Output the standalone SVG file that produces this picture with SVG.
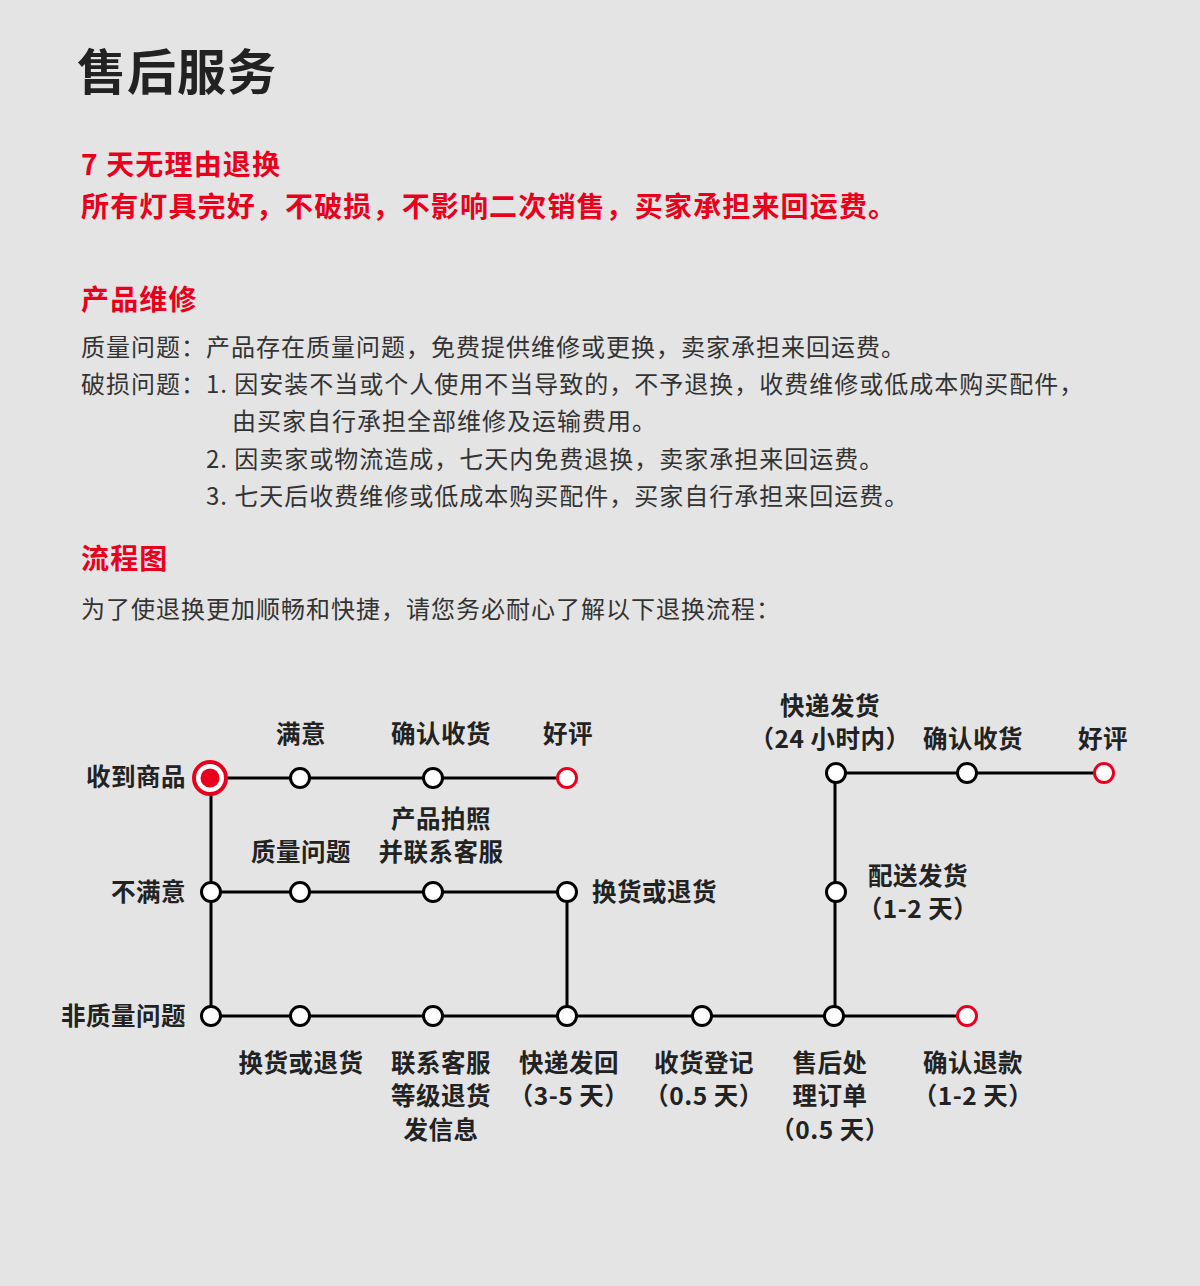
<svg xmlns="http://www.w3.org/2000/svg" width="1200" height="1286" viewBox="0 0 1200 1286">
<style>
.bg{fill:#e4e4e4}
.title{font-family:"Noto Sans CJK SC","Noto Sans",sans-serif;font-weight:700;font-size:49px;fill:#222;letter-spacing:1px}
.red{font-family:"Noto Sans CJK SC","Noto Sans",sans-serif;font-weight:700;font-size:28px;fill:#e8001c;letter-spacing:1.15px}
.body{font-family:"Noto Sans CJK SC","Noto Sans",sans-serif;font-weight:400;font-size:24px;fill:#333;letter-spacing:1px}
.lbl{font-family:"Noto Sans CJK SC","Noto Sans",sans-serif;font-weight:700;font-size:24.5px;fill:#222;text-anchor:middle;letter-spacing:0.5px}
.lbl.l{text-anchor:start}
.lbl.r{text-anchor:end}
.ln{stroke:#000;stroke-width:3;fill:none}
.n{fill:#fff;stroke:#000;stroke-width:3}
.e{fill:#fff;stroke:#e8001c;stroke-width:3}
</style>
<rect class="bg" x="0" y="0" width="1200" height="1286"/>
<text class="title" x="77" y="90">售后服务</text>
<text class="red" x="81" y="175">7 天无理由退换</text>
<text class="red" x="81" y="217">所有灯具完好，不破损，不影响二次销售，买家承担来回运费。</text>
<text class="red" x="81" y="310">产品维修</text>
<text class="body" x="81" y="356">质量问题：产品存在质量问题，免费提供维修或更换，卖家承担来回运费。</text>
<text class="body" x="81" y="393">破损问题：1. 因安装不当或个人使用不当导致的，不予退换，收费维修或低成本购买配件，</text>
<text class="body" x="232" y="430">由买家自行承担全部维修及运输费用。</text>
<text class="body" x="206" y="468">2. 因卖家或物流造成，七天内免费退换，卖家承担来回运费。</text>
<text class="body" x="206" y="505">3. 七天后收费维修或低成本购买配件，买家自行承担来回运费。</text>
<text class="red" x="81" y="569">流程图</text>
<text class="body" x="81" y="618">为了使退换更加顺畅和快捷，请您务必耐心了解以下退换流程：</text>
<g id="connectors">
<path class="ln" d="M210 778H567"/>
<path class="ln" d="M211 778V1016"/>
<path class="ln" d="M211 892H567V1016"/>
<path class="ln" d="M211 1016H967"/>
<path class="ln" d="M835 1016V773H1104"/>
</g>
<g id="start"><circle cx="210" cy="778" r="16" fill="#fff" stroke="#e8001c" stroke-width="4"/><circle cx="210" cy="778" r="9.5" fill="#e8001c"/><text class="lbl r" x="186" y="786">收到商品</text></g>
<g id="n-manyi"><circle class="n" cx="300" cy="778" r="9.5"/><text class="lbl" x="301" y="743">满意</text></g>
<g id="n-queren1"><circle class="n" cx="433" cy="778" r="9.5"/><text class="lbl" x="441" y="743">确认收货</text></g>
<g id="n-haoping1"><circle class="e" cx="567" cy="778" r="9.5"/><text class="lbl" x="568" y="743">好评</text></g>
<g id="n-bumanyi"><circle class="n" cx="211" cy="892" r="9.5"/><text class="lbl r" x="186" y="901">不满意</text></g>
<g id="n-zhiliang"><circle class="n" cx="300" cy="892" r="9.5"/><text class="lbl" x="301" y="861">质量问题</text></g>
<g id="n-paizhao"><circle class="n" cx="433" cy="892" r="9.5"/><text class="lbl" x="441" y="828">产品拍照</text><text class="lbl" x="441" y="861">并联系客服</text></g>
<g id="n-huanhuo1"><circle class="n" cx="567" cy="892" r="9.5"/><text class="lbl l" x="592" y="901">换货或退货</text></g>
<g id="n-feizhiliang"><circle class="n" cx="211" cy="1016" r="9.5"/><text class="lbl r" x="186" y="1025">非质量问题</text></g>
<g id="n-huanhuo2"><circle class="n" cx="300" cy="1016" r="9.5"/><text class="lbl" x="301" y="1072">换货或退货</text></g>
<g id="n-lianxi"><circle class="n" cx="433" cy="1016" r="9.5"/><text class="lbl" x="441" y="1072">联系客服</text><text class="lbl" x="441" y="1105">等级退货</text><text class="lbl" x="441" y="1139">发信息</text></g>
<g id="n-fahui"><circle class="n" cx="567" cy="1016" r="9.5"/><text class="lbl" x="569" y="1072">快递发回</text><text class="lbl" x="569" y="1105">（3-5 天）</text></g>
<g id="n-dengji"><circle class="n" cx="702" cy="1016" r="9.5"/><text class="lbl" x="704" y="1072">收货登记</text><text class="lbl" x="704" y="1105">（0.5 天）</text></g>
<g id="n-shouhou"><circle class="n" cx="834" cy="1016" r="9.5"/><text class="lbl" x="830" y="1072">售后处</text><text class="lbl" x="830" y="1105">理订单</text><text class="lbl" x="830" y="1139">（0.5 天）</text></g>
<g id="n-tuikuan"><circle class="e" cx="967" cy="1016" r="9.5"/><text class="lbl" x="973" y="1072">确认退款</text><text class="lbl" x="973" y="1105">（1-2 天）</text></g>
<g id="n-peisong"><circle class="n" cx="836" cy="892" r="9.5"/><text class="lbl" x="918" y="885">配送发货</text><text class="lbl" x="918" y="918">（1-2 天）</text></g>
<g id="n-fahuo"><circle class="n" cx="836" cy="773" r="9.5"/><text class="lbl" x="830" y="715">快递发货</text><text class="lbl" x="830" y="748">（24 小时内）</text></g>
<g id="n-queren2"><circle class="n" cx="967" cy="773" r="9.5"/><text class="lbl" x="973" y="748">确认收货</text></g>
<g id="n-haoping2"><circle class="e" cx="1104" cy="773" r="9.5"/><text class="lbl" x="1103" y="748">好评</text></g>
</svg>
